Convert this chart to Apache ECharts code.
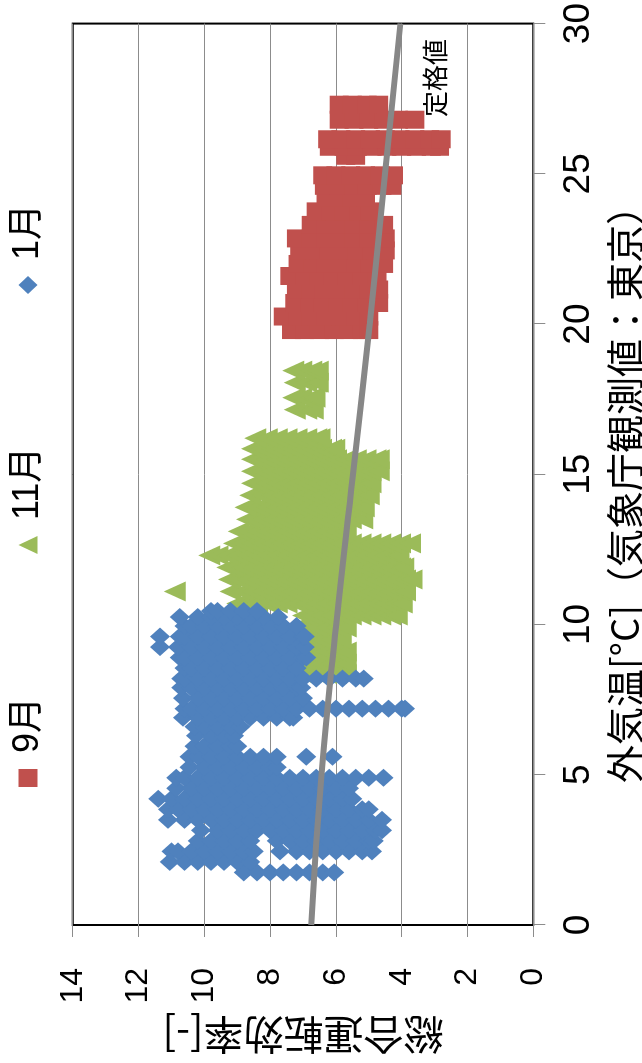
<!DOCTYPE html>
<html lang="ja">
<head>
<meta charset="utf-8">
<title>総合運転効率と外気温</title>
<script src="https://cdn.jsdelivr.net/npm/echarts@6/dist/echarts.min.js"></script>
<style>
  html, body { margin: 0; padding: 0; background: #fff; overflow: hidden; }
  body { width: 642px; height: 1063px; position: relative; }
  /* chart is laid out landscape and turned a quarter turn counter-clockwise */
  #wrap {
    position: absolute; left: 0; top: 0;
    width: 1063px; height: 642px;
    transform-origin: 0 0;
    transform: translate(0, 1063px) rotate(-90deg);
  }
  #chart { width: 1063px; height: 642px; }
</style>
</head>
<body>
<div id="wrap"><div id="chart"></div></div>
<script>
// Each row: [outdoor temperature °C, efficiency values observed at that temperature...]
const septemberRows = [
  [19.8, 7.35, 6.95, 6.5, 6.05, 5.6, 5.2, 5.0],
  [20.25, 7.6, 7.15, 6.75, 6.3, 5.85, 5.4, 5.0],
  [20.7, 7.25, 6.8, 6.4, 5.95, 5.5, 5.05, 4.7],
  [21.15, 7.2, 6.75, 6.35, 5.9, 5.45, 5.0, 4.7],
  [21.6, 7.4, 6.95, 6.5, 6.1, 5.65, 5.2, 4.75],
  [22.0, 7.15, 6.7, 6.3, 5.85, 5.4, 4.95, 4.55],
  [22.45, 7.1, 6.65, 6.2, 5.8, 5.35, 4.9, 4.5],
  [22.85, 7.2, 6.75, 6.3, 5.9, 5.45, 5.0, 4.5],
  [23.3, 6.75, 6.3, 5.9, 5.45, 5.0, 4.55],
  [23.75, 6.6, 6.15, 5.75, 5.3, 4.95],
  [24.2, 6.3, 5.9, 5.5, 5.1],
  [24.6, 6.35, 5.9, 5.45, 5.05, 4.6, 4.3],
  [24.95, 6.4, 6.0, 5.55, 5.1, 4.65, 4.25],
  [25.6, 5.7, 5.4],
  [25.9, 6.2, 5.75, 5.35, 4.9, 4.45, 4.0, 3.55, 3.1, 2.85],
  [26.15, 6.25, 5.85, 5.4, 4.95, 4.5, 4.05, 3.6, 3.15, 2.8],
  [26.8, 5.9, 5.45, 5.0, 4.55, 4.1, 3.6],
  [27.3, 5.9, 5.5, 5.05, 4.7]
];

const novemberRows = [
  [7.8, 8.5],
  [8.35, 7.0, 6.9, 6.6, 6.3, 6.0, 5.7],
  [8.7, 6.9, 6.75, 6.45, 6.15, 5.85, 5.7],
  [9.1, 7.0, 6.9, 6.6, 6.3, 6.0, 5.7],
  [9.5, 7.1, 6.75, 6.45, 6.15, 5.85],
  [9.9, 7.2, 6.9, 6.6, 6.3, 6.0, 5.7],
  [10.3, 7.0, 6.75, 6.45, 6.15, 5.85, 5.55, 5.25, 4.95, 4.65, 4.35, 4.15],
  [10.7, 9.0, 8.7, 8.4, 8.1, 7.8, 7.5, 7.2, 6.9, 6.6, 6.3, 6.0, 5.7, 5.4, 5.1, 4.8, 4.5, 4.2, 4.0],
  [11.1, 10.9, 9.2, 8.85, 8.55, 8.25, 7.95, 7.65, 7.35, 7.05, 6.75, 6.45, 6.15, 5.85, 5.55, 5.25, 4.95, 4.65, 4.35, 4.05, 3.9],
  [11.5, 9.25, 9.0, 8.7, 8.4, 8.1, 7.8, 7.5, 7.2, 6.9, 6.6, 6.3, 6.0, 5.7, 5.4, 5.1, 4.8, 4.5, 4.2, 3.9, 3.7],
  [11.9, 9.3, 9.15, 8.85, 8.55, 8.25, 7.95, 7.65, 7.35, 7.05, 6.75, 6.45, 6.15, 5.85, 5.55, 5.25, 4.95, 4.65, 4.35, 4.05, 3.95],
  [12.3, 9.85, 9.6, 9.3, 9.0, 8.7, 8.4, 8.1, 7.8, 7.5, 7.2, 6.9, 6.6, 6.3, 6.0, 5.7, 5.4, 5.1, 4.8, 4.5, 4.2, 4.1],
  [12.7, 9.1, 8.85, 8.55, 8.25, 7.95, 7.65, 7.35, 7.05, 6.75, 6.45, 6.15, 5.85, 5.55, 5.25, 4.95, 4.65, 4.35, 4.05, 3.75],
  [13.1, 8.95, 8.7, 8.4, 8.1, 7.8, 7.5, 7.2, 6.9, 6.6, 6.3, 6.0, 5.7],
  [13.5, 8.7, 8.55, 8.25, 7.95, 7.65, 7.35, 7.05, 6.75, 6.45, 6.15, 5.85, 5.55, 5.2],
  [13.9, 8.75, 8.4, 8.1, 7.8, 7.5, 7.2, 6.9, 6.6, 6.3, 6.0, 5.7, 5.4, 5.15],
  [14.3, 8.6, 8.25, 7.95, 7.65, 7.35, 7.05, 6.75, 6.45, 6.15, 5.85, 5.55, 5.25, 5.0],
  [14.7, 8.55, 8.4, 8.1, 7.8, 7.5, 7.2, 6.9, 6.6, 6.3, 6.0, 5.7, 5.4, 5.1, 4.95],
  [15.1, 8.55, 8.25, 7.95, 7.65, 7.35, 7.05, 6.75, 6.45, 6.15, 5.85, 5.55, 5.25, 4.95, 4.7],
  [15.5, 8.55, 8.4, 8.1, 7.8, 7.5, 7.2, 6.9, 6.6, 6.3, 6.0, 5.7, 5.4, 5.1, 4.8, 4.7],
  [15.85, 8.55, 8.25, 7.95, 7.65, 7.35, 7.05, 6.75, 6.45, 6.15, 6.05],
  [16.2, 8.45, 8.1, 7.8, 7.5, 7.2, 6.9, 6.6, 6.5],
  [17.15, 7.25, 6.9, 6.7],
  [17.55, 7.3, 7.05, 6.75, 6.65],
  [18.05, 7.25, 6.9, 6.6, 6.55],
  [18.45, 7.3, 7.05, 6.75, 6.55]
];

const januaryRows = [
  [1.75, 8.8, 8.4, 8.0, 7.6, 7.2, 6.8, 6.4, 6.05],
  [2.1, 11.05, 10.6, 10.2, 9.8, 9.4, 9.0, 8.6],
  [2.45, 11.0, 10.8, 10.4, 10.0, 9.6, 9.2, 8.8, 8.5, 7.7, 7.2, 6.8, 6.4, 6.0, 5.6, 5.2, 4.9],
  [2.8, 10.2, 9.8, 9.4, 9.0, 8.6, 7.8, 7.4, 7.0, 6.6, 6.2, 5.8, 5.4, 5.0, 4.85],
  [3.15, 10.1, 9.6, 9.2, 8.8, 8.4, 8.0, 7.6, 7.2, 6.8, 6.4, 6.0, 5.6, 5.2, 4.8, 4.6],
  [3.5, 11.1, 10.6, 10.2, 9.8, 9.4, 9.0, 8.6, 8.2, 7.8, 7.4, 7.0, 6.6, 6.2, 5.8, 5.4, 5.0, 4.6],
  [3.85, 11.1, 10.8, 10.4, 10.0, 9.6, 9.2, 8.8, 8.4, 8.0, 7.6, 7.2, 6.8, 6.4, 6.0, 5.6, 5.2, 5.0],
  [4.2, 11.4, 11.0, 10.6, 10.2, 9.8, 9.4, 9.0, 8.6, 8.2, 7.8, 7.4, 7.0, 6.6, 6.2, 5.8, 5.5],
  [4.55, 10.85, 10.4, 10.0, 9.6, 9.2, 8.8, 8.4, 8.0, 7.6, 7.2, 6.8, 6.4, 6.0, 5.6],
  [4.9, 10.85, 10.6, 10.2, 9.8, 9.4, 9.0, 8.6, 8.2, 7.8, 7.4, 7.0, 6.6, 6.2, 5.8, 5.4, 5.0, 4.55],
  [5.25, 10.45, 10.0, 9.6, 9.2, 8.8, 8.4, 8.0, 7.8],
  [5.6, 10.45, 10.2, 9.8, 9.4, 9.0, 8.6, 8.2, 7.8, 6.9, 6.1],
  [5.95, 10.3, 10.0, 9.6, 9.2, 9.0],
  [6.3, 10.25, 9.8, 9.4, 9.1],
  [6.6, 10.3, 10.0, 9.6, 9.2, 8.9],
  [6.9, 10.65, 10.2, 9.8, 9.4, 9.0, 8.6, 8.2, 7.8, 7.4, 7.3],
  [7.2, 10.6, 10.4, 10.0, 9.6, 9.2, 8.8, 8.4, 8.0, 7.6, 7.2, 6.8, 6.4, 6.0, 5.6, 5.2, 4.8, 4.4, 4.0, 3.9],
  [7.55, 10.65, 10.2, 9.8, 9.4, 9.0, 8.6, 8.2, 7.8, 7.4, 7.0],
  [7.9, 10.7, 10.4, 10.0, 9.6, 9.2, 8.8, 8.4, 8.0, 7.6, 7.2, 7.05],
  [8.2, 10.7, 10.6, 10.2, 9.8, 9.4, 9.0, 8.6, 8.2, 7.8, 7.4, 7.0, 6.6, 6.2, 5.8, 5.4, 5.15],
  [8.55, 10.6, 10.4, 10.0, 9.6, 9.2, 8.8, 8.4, 8.0, 7.6, 7.2],
  [8.9, 10.75, 10.6, 10.2, 9.8, 9.4, 9.0, 8.6, 8.2, 7.8, 7.4, 7.0, 6.9],
  [9.25, 11.35, 10.8, 10.4, 10.0, 9.6, 9.2, 8.8, 8.4, 8.0, 7.6, 7.2, 6.95],
  [9.6, 11.35, 10.75, 10.6, 10.2, 9.8, 9.4, 9.0, 8.6, 8.2, 7.8, 7.4, 7.0, 6.95],
  [9.95, 10.6, 10.4, 10.0, 9.6, 9.2, 8.8, 8.4, 8.0, 7.6, 7.2],
  [10.25, 10.75, 10.2, 9.8, 9.4, 9.0, 8.6, 8.2, 7.75],
  [10.45, 9.8, 9.6, 9.2, 8.8, 8.4]
];

// rated efficiency curve
const ratedTemps = [0, 5, 10, 15, 20, 25, 30];
const ratedEff = [6.75, 6.44, 5.99, 5.48, 4.97, 4.51, 4.04];

const monthNames = ['9月', '11月', '1月'];
const monthColors = ['#C0504D', '#9BBB59', '#4F81BD'];
const monthSymbols = ['rect', 'triangle', 'diamond'];
const ratedName = '定格値';
const tempAxisTitle = '外気温[°C]（気象庁観測値：東京）';
const effAxisTitle = '総合運転効率[-]';

function rowsToPoints(rows) {
  const pts = [];
  rows.forEach(function (r) {
    for (let i = 1; i < r.length; i++) pts.push([r[0], r[i]]);
  });
  return pts;
}

const LATIN = '"Liberation Sans", Arial, "Noto Sans CJK JP", sans-serif';
const CJK = '"Noto Sans CJK JP", "Liberation Sans", sans-serif';

const chart = echarts.init(document.getElementById('chart'), null, { renderer: 'canvas', devicePixelRatio: 1 });

const legendLefts = [276, 509, 769];
const legends = monthNames.map(function (name, i) {
  return {
    data: [{ name: name, icon: monthSymbols[i] }],
    left: legendLefts[i],
    top: 10,
    padding: 0,
    itemWidth: 18,
    itemHeight: 19,
    selectedMode: false,
    textStyle: { fontSize: 36, lineHeight: 36, color: '#000', fontFamily: LATIN, padding: [0, 0, 0, 11] }
  };
});

const symbolSizes = [[18, 19], [20, 22], [18, 20]];
const monthRows = [septemberRows, novemberRows, januaryRows];

const series = monthNames.map(function (name, i) {
  return {
    name: name,
    type: 'scatter',
    symbol: monthSymbols[i],
    symbolSize: symbolSizes[i],
    itemStyle: { color: monthColors[i], opacity: 1 },
    data: rowsToPoints(monthRows[i]),
    silent: true,
    z: 2 + i
  };
});

series.push({
  name: ratedName,
  type: 'line',
  smooth: true,
  symbol: 'none',
  data: ratedTemps.map(function (t, i) { return [t, ratedEff[i]]; }),
  lineStyle: { color: '#878787', width: 6 },
  silent: true,
  z: 6
});

chart.setOption({
  animation: false,
  backgroundColor: '#fff',
  legend: legends,
  grid: {
    left: 138, right: 16.7, top: 72.7, bottom: 108.7,
    show: true, borderColor: '#000', borderWidth: 2, backgroundColor: '#fff'
  },
  xAxis: {
    type: 'value', min: 0, max: 30, interval: 5,
    axisLine: { show: false },
    axisTick: { show: true, length: 12, lineStyle: { color: '#8c8c8c', width: 1 } },
    axisLabel: { fontSize: 37, margin: 27, color: '#000', fontFamily: LATIN },
    splitLine: { show: false }
  },
  yAxis: {
    type: 'value', min: 0, max: 14, interval: 2,
    axisLine: { show: false },
    axisTick: { show: true, length: 12, lineStyle: { color: '#8c8c8c', width: 1 } },
    axisLabel: { fontSize: 32, margin: 43, color: '#000', fontFamily: LATIN },
    splitLine: { show: true, lineStyle: { color: '#8c8c8c', width: 1 } }
  },
  graphic: [
    {
      type: 'text', x: 578, y: 625, silent: true,
      style: { text: tempAxisTitle, font: '38px ' + CJK, fill: '#000', textAlign: 'center', textVerticalAlign: 'middle' }
    },
    {
      type: 'text', x: 28, y: 303, rotation: Math.PI / 2, silent: true,
      style: { text: effAxisTitle, font: '40px ' + CJK, fill: '#000', textAlign: 'center', textVerticalAlign: 'middle' }
    },
    {
      type: 'text', x: 946, y: 435, silent: true, z: 10,
      style: { text: ratedName, font: '26px ' + CJK, fill: '#000', textAlign: 'left', textVerticalAlign: 'middle' }
    }
  ],
  series: series
});
</script>
</body>
</html>
